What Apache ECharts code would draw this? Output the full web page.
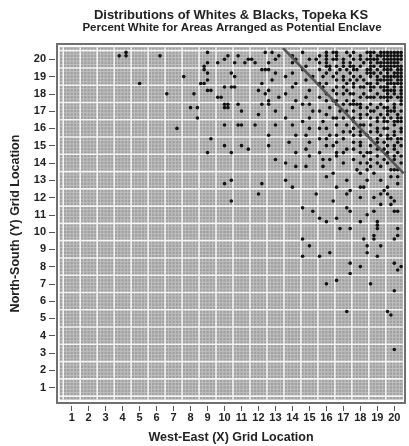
<!DOCTYPE html>
<html><head><meta charset="utf-8">
<script src="https://cdn.jsdelivr.net/npm/echarts@6/dist/echarts.min.js"></script>
<style>html,body{margin:0;padding:0;background:#fff}#c{width:409px;height:446px}</style>
</head><body><div id="c"></div>
<script>
const titleText = 'Distributions of Whites & Blacks, Topeka KS';
const subtitleText = 'Percent White for Areas Arranged as Potential Enclave';
const xName = 'West-East (X) Grid Location';
const yName = 'North-South (Y) Grid Location';
const xTicks = [1,2,3,4,5,6,7,8,9,10,11,12,13,14,15,16,17,18,19,20];
const yTicks = [1,2,3,4,5,6,7,8,9,10,11,12,13,14,15,16,17,18,19,20];

// scattered cells (x, y)
const sparsePoints = [
 [3.8,20.2],[4.2,20.4],[4.2,20.2],[6.2,20.2],[5.0,18.6],[7.6,19.0],[6.6,18.0],[8.2,18.0],
 [8.0,17.2],[8.4,17.2],[8.4,16.6],[7.2,16.0],[9.0,20.4],[8.8,19.6],[8.8,19.4],[9.0,19.8],
 [9.0,19.2],[9.6,19.8],[10.0,20.0],[10.2,20.2],[10.8,20.2],[10.6,19.8],[11.2,19.8],[11.4,20.0],
 [11.6,20.0],[11.8,19.8],[12.4,20.4],[12.2,19.4],[12.4,19.4],[8.6,18.6],[8.8,18.6],[9.0,18.8],
 [10.4,19.2],[10.6,19.0],[9.0,18.2],[9.2,18.2],[10.0,18.4],[10.4,18.4],[10.6,18.4],[9.6,17.8],
 [9.8,17.8],[12.0,18.2],[12.4,18.0],[12.2,18.6],[12.2,17.4],[10.0,17.4],[10.2,17.4],[10.0,17.2],
 [10.2,17.2],[10.8,17.4],[11.0,17.0],[12.0,16.8],[10.0,16.2],[10.8,16.2],[11.0,16.2],[11.8,16.2],
 [9.2,15.4],[10.0,15.0],[11.0,15.0],[11.4,14.8],[9.0,14.6],[10.4,14.6],[10.0,12.8],[10.4,13.0],
 [12.2,12.8],[12.0,12.2],[10.4,11.8],
 [13.6,13.0],[14.0,12.6],[15.4,12.2],[16.0,13.2],[16.4,13.4],[16.6,12.6],[17.2,13.0],[17.4,12.4],
 [17.2,12.2],[16.4,11.8],[18.0,13.4],[18.8,13.4],[18.4,13.0],[18.0,12.6],[18.2,12.6],[18.0,12.0],
 [18.8,12.0],[19.2,13.0],[19.2,12.2],[19.4,12.4],[19.6,12.2],[19.6,12.6],[19.8,13.2],[20.2,13.2],
 [20.2,12.8],[19.8,12.0],[20.0,11.8],[19.2,11.6],[19.8,11.6],[14.6,11.4],[15.2,11.2],[15.6,10.8],
 [16.0,10.6],[16.6,10.8],[17.2,11.4],[17.4,11.2],[18.0,10.6],[18.4,11.0],[18.8,11.2],[20.0,11.2],
 [20.2,11.2],[16.8,10.2],[17.4,10.2],[19.0,10.6],[19.0,10.4],[19.0,10.2],[18.8,9.8],[18.8,9.6],
 [20.2,10.2],[20.2,9.8],[20.0,9.6],[14.6,9.6],[15.0,9.2],[18.2,9.6],[18.4,9.2],[18.4,8.8],
 [19.2,9.2],[16.2,8.8],[14.6,8.6],[15.6,8.6],[19.0,8.6],[17.4,8.2],[17.4,7.6],[18.0,8.0],
 [20.0,8.2],[20.4,8.0],[20.2,7.8],[16.0,7.0],[16.6,7.2],[18.6,7.0],[20.0,6.6],[17.2,5.4],
 [19.6,5.4],[19.8,5.2],[20.0,3.2]
];

// dense north-east block: columns x = 12.6 .. 20.4, rows y = 20.4 .. 13.6 (step 0.2)
const denseStartX = 12.6;
const denseStartY = 20.4;
const denseRows = [
 ".#... ..... #.... ..#.# #..#. #...# ##.## #####",
 "...#. ..#.. ..... #.#.. #...# ..#.. #.### #####",
 "..#.. ...#. ..#.# ..#.# #.#.. #.#.# ###.# #####",
 "#.... ..#.. ..... #.#.. ..#.# ...#. #.### ####.",
 "..... ..... .#... ..##. #.#.# #.#.. ##.## #####",
 "#.... ..... #.... #..#. .#.#. ##..# #.#.# ##.##",
 "..#.. ..#.. ..... ..#.. #...# ....# ##.#. #.###",
 "..... #.... ...#. .#..# ..#.. #.#.. #.#.# #####",
 ".#... ..... .#... ..... #.#.# .#.#. ..### ##.##",
 "..... ...#. ..... #.#.. ...#. #...# #.#.. #####",
 "..... ..#.. ..... .#... #.#.. #.##. ##.## #.#.#",
 "#.... ..... ..#.. ....# ...#. ..... #...# ###.#",
 "..... #.... ..... ..#.. #.#.# #..#. ..#.. #.#.#",
 "...#. ..... .#... #.... ..... ..#.# ##.## ##.##",
 "#.... ...#. ..... ..#.# #..#. #.... ..... #...#",
 "#.... ..... #.#.. ..... #.#.# ###.. #..#. ..#.#",
 "..... ..#.. ..... ...#. ..... ..#.# ..#.# #.#..",
 "..#.. ..... ...#. #.... .#.#. #.... ##... ###.#",
 "..... ..... ..... ..#.. ..... ..#.# ...#. #..#.",
 "..... #.... ..#.. ....# #.#.. #.#.. #.#.# .#.##",
 "..... ..... #.... .#... ..... #.... ..#.# #.###",
 "..#.. ..#.. ..... ..... #..#. ..##. #.... ..#..",
 "..... ..... ..#.. #.#.. ..... #.... ..#.# #...#",
 "..... ..... ..... ..... ..#.# ..#.. #.#.. ..#.#",
 "#.... ...#. .#... ...#. #.... #.#.# ...#. #.#..",
 "..... ..... ..... #.#.. ..#.. ..... #.#.. ##.##",
 "..... .#... ..#.. ..... #.... #.#.. ..#.# ...#.",
 "#.... ..... ..... ..#.# ..... ..#.. #.... #.#.#",
 "..... ..... .#... ..... ...#. #.... ..#.# ..#..",
 "..... ...#. ..... #.... #.#.. ..#.# #.... #..#.",
 "..... ..... ..#.. ..... #.... ...#. ..#.. #.#.#",
 "..#.. ..... ..... .#.#. ..... #.... #...# ..#..",
 "..... #.... ..... ..... ..#.. ..#.# ..#.. #...#",
 "..... ...#. .#... .#... ..... ..... #..#. .....",
 "..... ..... ..... ..... ..... .#..# ..... .###."
];

const enclaveLine = [[13.45,20.65],[20.55,13.4]];

const allPoints = sparsePoints.slice();
denseRows.forEach((row, r) => {
  const s = row.replace(/ /g, '');
  for (let k = 0; k < s.length; k++) {
    if (s[k] === '#') {
      allPoints.push([Math.round((denseStartX + 0.2 * k) * 10) / 10,
                      Math.round((denseStartY - 0.2 * r) * 10) / 10]);
    }
  }
});

const FONT = '"Liberation Sans", Arial, sans-serif';

function renderGrid(params, api) {
  const p0 = api.coord([0.3, 20.7]);
  const p1 = api.coord([20.5, 0.3]);
  const children = [{
    type: 'rect',
    shape: {x: p0[0], y: p0[1], width: p1[0] - p0[0], height: p1[1] - p0[1]},
    style: {fill: '#a0a0a0'}
  }];
  const minor = [], major = [];
  for (let t = 5; t < 205; t += 2) {
    const v = t / 10;
    const px = api.coord([v, 10])[0];
    (t % 10 === 5 ? major : minor).push({type: 'line', shape: {x1: px, y1: p0[1], x2: px, y2: p1[1]}});
  }
  for (let t = 5; t < 207; t += 2) {
    const v = t / 10;
    const py = api.coord([10, v])[1];
    (t % 10 === 5 ? major : minor).push({type: 'line', shape: {x1: p0[0], y1: py, x2: p1[0], y2: py}});
  }
  minor.forEach(m => { m.style = {stroke: '#c0c0c0', lineWidth: 1}; children.push(m); });
  major.forEach(m => { m.style = {stroke: '#f5f5f5', lineWidth: 1.6}; children.push(m); });
  return {type: 'group', children: children};
}

const chart = echarts.init(document.getElementById('c'), null, {renderer: 'canvas'});
chart.setOption({
  animation: false,
  backgroundColor: '#fff',
  graphic: [
    {type: 'text', x: 231, y: 15, silent: true,
     style: {text: titleText, font: 'bold 13px ' + FONT, fill: '#222', textAlign: 'center', textVerticalAlign: 'middle'}},
    {type: 'text', x: 232, y: 28, silent: true,
     style: {text: subtitleText, font: 'bold 11.5px ' + FONT, fill: '#222', textAlign: 'center', textVerticalAlign: 'middle'}}
  ],
  grid: {left: 57, right: 4, top: 44, bottom: 43, show: true, borderColor: '#707070', borderWidth: 2,
         backgroundColor: 'transparent', containLabel: false, outerBoundsMode: 'none'},
  xAxis: {
    type: 'value', min: 0.134, max: 20.63, offset: 3,
    axisLine: {show: false},
    axisTick: {show: true, length: 5, customValues: xTicks, lineStyle: {color: '#555', width: 1}},
    axisLabel: {customValues: xTicks, margin: 6, color: '#222', fontWeight: 'bold', fontSize: 11, fontFamily: FONT},
    splitLine: {show: false},
    name: xName, nameLocation: 'middle', nameGap: 25,
    nameTextStyle: {color: '#222', fontWeight: 'bold', fontSize: 12.5, fontFamily: FONT}
  },
  yAxis: {
    type: 'value', min: 0.1025, max: 20.886, offset: 2,
    axisLine: {show: false},
    axisTick: {show: true, length: 6, customValues: yTicks, lineStyle: {color: '#555', width: 1}},
    axisLabel: {customValues: yTicks, margin: 9, color: '#222', fontWeight: 'bold', fontSize: 11, fontFamily: FONT},
    splitLine: {show: false},
    name: yName, nameLocation: 'middle', nameGap: 33, nameRotate: 90,
    nameTextStyle: {color: '#222', fontWeight: 'bold', fontSize: 12.5, fontFamily: FONT}
  },
  series: [
    {type: 'custom', renderItem: renderGrid, data: [[10, 10]], silent: true, clip: false, z: 1},
    {type: 'scatter', data: allPoints, symbol: 'circle', symbolSize: 3.6, silent: true,
     itemStyle: {color: '#111', opacity: 1}, z: 3},
    {type: 'line', data: enclaveLine, symbol: 'none', silent: true,
     lineStyle: {color: '#555', width: 2.6}, z: 4}
  ]
});
</script></body></html>
